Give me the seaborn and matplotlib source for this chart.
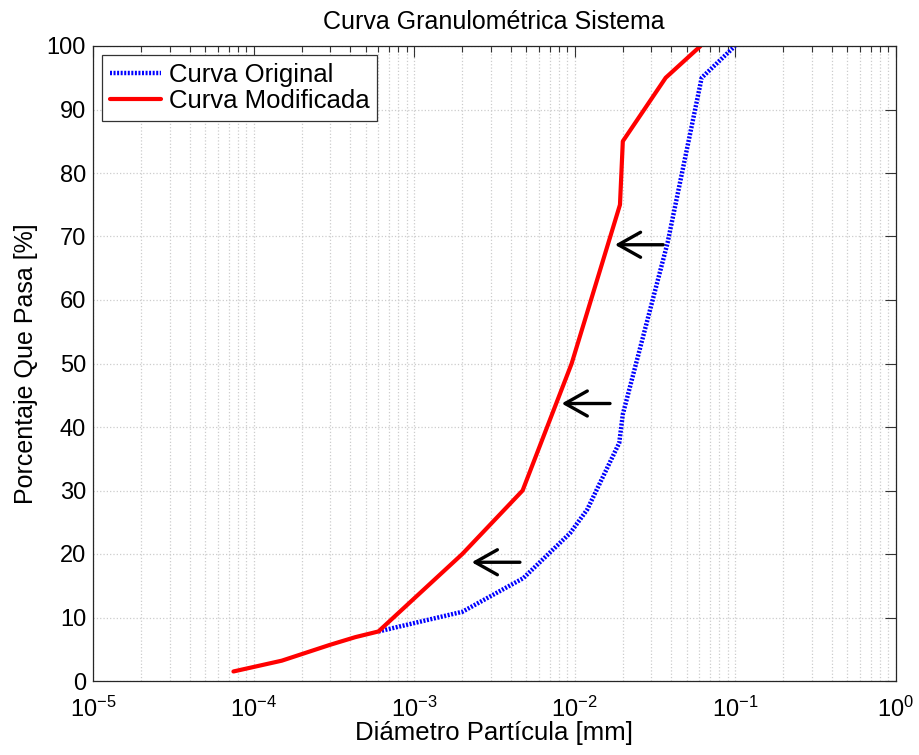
import numpy as np
import pandas as pd
import matplotlib
matplotlib.use("Agg")
import matplotlib.pyplot as plt
import seaborn as sns
from matplotlib.ticker import LogLocator, FixedLocator, NullFormatter

# ---- data ----
orig_d = [6.0e-4, 2.0e-3, 4.8e-3, 9.4e-3, 1.2e-2, 1.9e-2, 2.0e-2, 3.8e-2, 6.2e-2, 1.0e-1]
orig_p = [7.8, 10.9, 16.2, 23.3, 27.0, 37.5, 42.0, 69.0, 95.0, 100.0]

mod_d = [7.5e-5, 1.5e-4, 3.0e-4, 4.3e-4, 6.0e-4, 2.0e-3, 4.75e-3, 9.6e-3, 1.92e-2, 2.0e-2, 3.7e-2, 6.1e-2]
mod_p = [1.5, 3.2, 5.7, 6.9, 7.8, 20.0, 30.0, 50.0, 75.0, 85.0, 95.0, 100.0]

arrow_y = [68.7, 43.7, 18.7]
arrow_tail = [0.0357, 0.01664, 0.00457]
arrow_tip = [0.01786, 0.00832, 0.00229]

title = "Curva Granulométrica Sistema"
xlabel = "Diámetro Partícula [mm]"
ylabel = "Porcentaje Que Pasa [%]"
legend_labels = ["Curva Original", "Curva Modificada"]
yticks = [0, 10, 20, 30, 40, 50, 60, 70, 80, 90, 100]
xticks = [1e-5, 1e-4, 1e-3, 1e-2, 1e-1, 1e0]
xticklabels = [r"$10^{-5}$", r"$10^{-4}$", r"$10^{-3}$", r"$10^{-2}$", r"$10^{-1}$", r"$10^{0}$"]

# ---- style ----
sns.set_style("white")
FONT = ["Liberation Sans", "DejaVu Sans"]
plt.rcParams["font.family"] = FONT
plt.rcParams["mathtext.fontset"] = "custom"
plt.rcParams["mathtext.rm"] = "Liberation Sans"
plt.rcParams["mathtext.it"] = "Liberation Sans"
plt.rcParams["mathtext.sf"] = "Liberation Sans"
plt.rcParams["mathtext.default"] = "rm"
for k in ["text.color", "axes.labelcolor", "xtick.color", "ytick.color"]:
    plt.rcParams[k] = "black"

fig = plt.figure(figsize=(9.19, 7.55), dpi=100)
ax = fig.add_axes([93 / 919, (755 - 681) / 755, 802.5 / 919, 635 / 755])

df_o = pd.DataFrame({"d": orig_d, "p": orig_p})
df_m = pd.DataFrame({"d": mod_d, "p": mod_p})

sns.lineplot(data=df_o, x="d", y="p", ax=ax, sort=False, estimator=None,
             color="#0000ff", linewidth=3.2, linestyle=(0, (0.45, 0.35)),
             label=legend_labels[0])
sns.lineplot(data=df_m, x="d", y="p", ax=ax, sort=False, estimator=None,
             color="#ff0000", linewidth=3.0, linestyle="-",
             label=legend_labels[1])

ax.set_xscale("log")
ax.set_xlim(1e-5, 1e0)
ax.set_ylim(0, 100)

ax.xaxis.set_major_locator(FixedLocator(xticks))
ax.set_xticklabels(xticklabels)
ax.xaxis.set_minor_locator(LogLocator(base=10, subs=np.arange(2, 10), numticks=20))
ax.xaxis.set_minor_formatter(NullFormatter())
ax.set_yticks(yticks)
ax.set_yticklabels([str(v) for v in yticks])

ax.grid(which="major", color="#cccccc", linestyle=":", linewidth=0.9)
ax.grid(which="minor", axis="x", color="#cccccc", linestyle=":", linewidth=0.9)
ax.set_axisbelow(True)

ax.tick_params(which="both", direction="in", top=True, right=True,
               color="#333333", width=0.8)
ax.tick_params(which="major", length=8, labelsize=17, pad=5)
ax.tick_params(axis="x", which="major", pad=11)
ax.tick_params(which="minor", length=4)
for s in ax.spines.values():
    s.set_color("#262626")
    s.set_linewidth(0.9)

ax.set_title(title, fontsize=18, pad=12)
ax.set_xlabel(xlabel, fontsize=18.5, labelpad=0)
ax.set_ylabel(ylabel, fontsize=18, labelpad=6)

for y, t0, t1 in zip(arrow_y, arrow_tail, arrow_tip):
    ax.annotate("", xy=(t1, y), xytext=(t0, y),
                arrowprops=dict(arrowstyle="->,head_length=0.8,head_width=0.45",
                                color="black", lw=2.4, mutation_scale=20,
                                shrinkA=0, shrinkB=0))

leg = ax.legend(loc="upper left", fontsize=18.5, frameon=True, fancybox=False,
                framealpha=1, edgecolor="#333333", borderpad=0.3,
                handlelength=2.0, handletextpad=0.3, labelspacing=0.1,
                borderaxespad=0.35)
leg.get_frame().set_linewidth(0.9)

fig.savefig("out.png", dpi=100)
